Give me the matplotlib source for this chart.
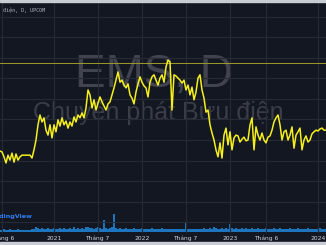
import matplotlib
matplotlib.use("Agg")
import matplotlib.pyplot as plt
from matplotlib.patches import Rectangle
import pandas as pd

# EMS daily close, sampled roughly every 8 days (May 2020 - Feb 2024)
start_date = "2020-05-22"
end_date = "2024-02-03"
prices = [27.3, 27.1, 25.9, 24.4, 26.3, 25.1, 26.8, 24.6, 26.6, 25.1,
          25.9, 26.3, 26.3, 26.3, 26.3, 26.3, 25.6, 27.6, 30.0, 33.7,
          36.1, 34.4, 35.4, 32.4, 31.2, 33.7, 30.5, 33.7, 32.0, 34.9,
          33.4, 35.4, 33.7, 34.6, 32.9, 34.4, 33.4, 35.6, 34.4, 36.1,
          35.4, 36.6, 35.4, 37.8, 42.2, 41.0, 37.8, 39.8, 37.3, 39.0,
          40.5, 39.3, 38.3, 37.3, 38.8, 39.3, 41.0, 42.7, 44.6, 46.6,
          44.1, 44.6, 43.4, 42.7, 43.7, 41.0, 40.2, 38.8, 41.7, 43.7,
          45.4, 44.1, 43.2, 42.7, 40.5, 44.1, 45.4, 45.9, 44.6, 43.4,
          45.1, 45.9, 44.1, 47.8, 49.5, 49.0, 37.3, 45.9, 45.6, 45.1,
          44.6, 43.9, 44.6, 42.2, 43.4, 41.0, 42.9, 39.8, 41.7, 45.1,
          45.9, 42.2, 40.2, 36.8, 37.3, 33.7, 31.7, 30.0, 27.6, 25.9,
          29.3, 25.6, 31.2, 32.9, 28.8, 32.0, 27.6, 30.5, 31.2, 31.0,
          29.5, 30.2, 30.7, 29.8, 30.0, 33.7, 35.4, 27.6, 33.2, 31.2,
          30.0, 31.7, 30.0, 29.3, 30.7, 31.0, 32.4, 34.4, 35.4, 36.1,
          33.7, 30.0, 32.0, 32.4, 30.0, 31.2, 33.2, 28.0, 31.2, 32.0,
          32.9, 27.6, 30.0, 31.0, 29.5, 30.0, 31.5, 32.0, 32.4, 32.2,
          32.7, 32.9, 32.4, 32.4]
volumes = [2, 2, 3, 2, 2, 3, 2, 2, 2, 3, 2, 2, 2, 2, 2, 2, 3, 3,
           5, 4, 3, 4, 3, 3, 4, 3, 3, 4, 3, 3, 4, 3, 4, 3, 3, 4, 3, 5, 3, 4, 3, 4, 3, 5,
           5, 4, 4, 3, 4, 5, 4, 3, 12, 4, 3, 4, 5, 18, 4, 3, 4,
           3, 3, 4, 3, 3, 3, 4, 3, 3, 3, 4, 3, 3, 3, 3, 4, 3, 3, 3, 3,
           4, 3, 3, 3, 3, 3, 3, 3, 3, 3, 3, 3, 9, 3, 3, 3, 3, 3, 3, 3,
           3, 4, 3, 3, 4, 3, 5, 4, 3, 3, 4, 3, 4, 3, 8, 4, 3, 4, 3, 3,
           4, 3, 4, 3, 3, 4, 3, 3, 4, 3,
           3, 3, 4, 3, 3, 3, 4, 3, 3, 4, 3, 3, 3, 3, 4, 3, 3, 3, 4, 3,
           3, 3, 3, 4, 3, 3, 3, 3, 3, 4, 3, 3, 3]
price_line = 48.8

tick_dates = ["2020-06-01", "2021-01-01", "2021-07-01", "2022-01-01",
              "2022-07-01", "2023-01-01", "2023-06-01", "2024-01-01"]
tick_labels = ["Tháng 6", "2021", "Tháng 7", "2022", "Tháng 7", "2023", "Tháng 6", "2024"]
grid_prices = [10, 15, 20, 25, 30, 35, 40, 45, 50, 55, 60]

dates = pd.date_range(start_date, end_date, periods=len(prices))

bg = "#131722"
fig = plt.figure(figsize=(3.26, 2.45), dpi=100, facecolor=bg)
ax = fig.add_axes([0, 12 / 245, 1, 230 / 245])
ax2 = ax.twinx()
ax2.set_zorder(ax.get_zorder() - 1)
ax.patch.set_visible(False)
ax2.set_facecolor(bg)

ax2.bar(dates, volumes, width=8, color="#2196f3", alpha=0.75, linewidth=0)
ax2.set_ylim(-1, 229)
ax2.set_yticks([])

ax.plot(dates, prices, color="#f5ef1c", lw=1.1, zorder=3)
ax.axhline(price_line, color="#9d9a2c", lw=0.7, zorder=2)

ax.set_xlim(pd.Timestamp(start_date), pd.Timestamp(end_date))
ax.set_ylim(7.32, 63.41)
ax.set_yticks(grid_prices)
ax.set_yticklabels([])
ax.set_xticks(pd.to_datetime(tick_dates))
ax.set_xticklabels(tick_labels)
ax.tick_params(axis="x", length=0, colors="#d1d4dc", labelsize=4.3, pad=2)
ax.tick_params(axis="y", length=0)
ax.grid(True, color="#262a35", lw=0.8)
for s in list(ax.spines.values()) + list(ax2.spines.values()):
    s.set_visible(False)

# watermark and labels
ax.text(0.472, 0.685, "EMS, D", transform=ax.transAxes, ha="center", va="center",
        fontsize=33, color="#41444e", family="Liberation Sans", zorder=1)
ax.text(0.485, 0.525, "Chuyển phát Bưu điện", transform=ax.transAxes, ha="center",
        va="center", fontsize=18, color="#3a3d47", family="Liberation Sans", zorder=1)
ax.text(45 / 326, 0.968, "Chuyển phát Bưu điện, D, UPCOM", transform=ax.transAxes,
        ha="right", va="center", fontsize=3.6, color="#b2b5be",
        family=["DejaVu Sans Mono", "DejaVu Sans", "Liberation Mono"])
ax.text(33 / 326, 0.072, "TradingView", transform=ax.transAxes, ha="right",
        va="center", fontsize=4.6, color="#2f7bf0", fontweight="bold")

# light edges at top and bottom of the capture
fig.patches.append(Rectangle((0, 1 - 2.5 / 245), 1, 2.5 / 245, transform=fig.transFigure,
                             color="#c9ccd3", zorder=0))
fig.patches.append(Rectangle((0, 0), 1, 3 / 245, transform=fig.transFigure,
                             color="#c9ccd3", zorder=0))

fig.savefig("out.png", dpi=100, facecolor=bg)
